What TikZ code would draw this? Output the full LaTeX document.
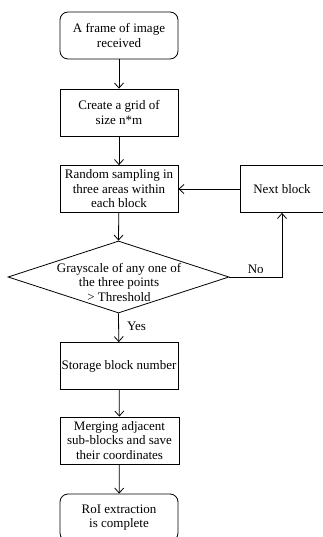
\documentclass[tikz,border=0pt]{standalone}
\usepackage{fontspec}
\setmainfont{Liberation Serif}
\usetikzlibrary{arrows.meta,shapes.geometric}

\begin{document}
\begin{tikzpicture}[x=1pt, y=-1pt,
  every node/.style={align=center, font=\fontsize{13}{14.5}\selectfont, inner sep=0pt},
  stepbox/.style={draw, minimum width=118pt, minimum height=47pt},
  terminal/.style={stepbox, rounded corners=8pt},
  decision/.style={draw, diamond, minimum width=221pt, minimum height=72pt},
  >={Straight Barb[length=5pt,width=9pt]}, line width=0.8pt
]
\useasboundingbox (0,0) rectangle (323,537);
\clip (0,0) rectangle (323,537);

\node[terminal] (start)   at (119,35.5)  {A frame of image\\received};
\node[stepbox]  (grid)    at (119,112.5) {Create a grid of\\size n*m};
\node[stepbox]  (sample)  at (119,189)   {Random sampling in\\three areas within\\each block};
\node[stepbox, minimum width=84pt] (next) at (282,189) {Next block};
\node[decision] (check)   at (118.5,277) {};
\node (checktext) at (119,282) {Grayscale of any one of\\the three points\\> Threshold};
\node[stepbox]  (storage) at (119,366)   {Storage block number};
\node[stepbox, minimum width=119pt] (merge) at (119.5,440.5) {Merging adjacent\\sub-blocks and save\\their coordinates};
\node[terminal] (finish)  at (119,517.5) {RoI extraction\\is complete};

\draw[->] (start) -- (grid);
\draw[->] (grid) -- (sample);
\draw[->] (sample) -- (check.north);
\draw[->] (check.south) -- node[right=8pt, pos=0.45] (yes) {Yes} (storage);
\draw[->] (check.east) -| node[above, pos=0.25, yshift=3pt] (no) {No} (next.south);
\draw[->] (next) -- (sample);
\draw[->] (storage) -- (merge);
\draw[->] (merge) -- (finish);
\end{tikzpicture}
\end{document}
